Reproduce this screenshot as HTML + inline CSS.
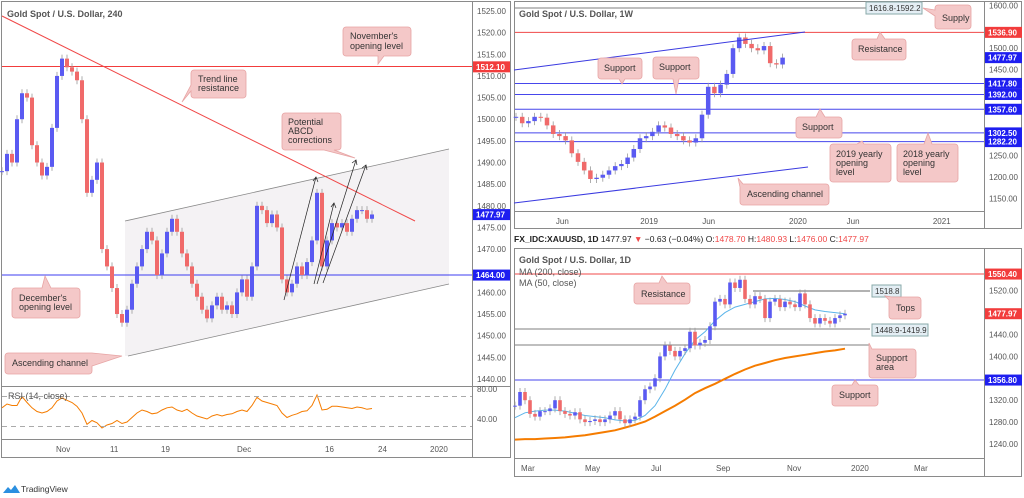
<!DOCTYPE html>
<html><head><meta charset="utf-8"><style>
body{margin:0;background:#fff;}
svg{display:block;font-family:"Liberation Sans",sans-serif;}
.ax{font-size:8px;fill:#555;}
.cl{font-size:9px;fill:#333;}
.tt{font-size:9px;fill:#555;font-weight:bold;}
</style></head><body>
<svg id="s" width="1024" height="498" viewBox="0 0 1024 498" xmlns="http://www.w3.org/2000/svg">
<rect width="1024" height="498" fill="#fff"/>
<g fill="none" stroke="#8a8a8a" stroke-width="1">
<rect x="1.5" y="1.5" width="509" height="456"/>
<line x1="472.5" y1="1" x2="472.5" y2="457"/>
<line x1="1" y1="386.5" x2="510" y2="386.5"/>
<line x1="1" y1="439.5" x2="472" y2="439.5"/>
<rect x="514.5" y="1.5" width="507" height="227"/>
<line x1="984.5" y1="1" x2="984.5" y2="228"/>
<line x1="514" y1="211.5" x2="984" y2="211.5"/>
<rect x="514.5" y="248.5" width="507" height="228"/>
<line x1="984.5" y1="248" x2="984.5" y2="476"/>
<line x1="514" y1="458.5" x2="984" y2="458.5"/>
</g>
<polygon points="125,221 449,149 449,284 128,356 125,356" fill="#f4f2f4"/>
<line x1="125" y1="221" x2="449" y2="149" stroke="#888" stroke-width="0.8"/>
<line x1="128" y1="356" x2="449" y2="284" stroke="#888" stroke-width="0.8"/>
<line x1="2" y1="66.5" x2="472" y2="66.5" stroke="#f23c3c" stroke-width="1"/>
<line x1="2" y1="275" x2="472" y2="275" stroke="#3c3cf0" stroke-width="1"/>
<g id="p1"></g>
<line x1="2" y1="16" x2="415" y2="221" stroke="#f04848" stroke-width="1"/>
<g stroke="#222" stroke-width="0.7" fill="none">
<line x1="284" y1="300" x2="316" y2="177"/><path d="M313,181 L316,177 L318,182"/>
<line x1="314" y1="284" x2="334" y2="203"/><path d="M331,207 L334,203 L336,208"/>
<line x1="317" y1="284" x2="356" y2="160"/><path d="M352,163 L356,160 L357,165"/>
<line x1="323" y1="283" x2="366" y2="165"/><path d="M362,168 L366,165 L367,170"/>
</g>
<text class="tt" x="7" y="17">Gold Spot / U.S. Dollar, 240</text>
<g id="rsi"></g>
<line x1="2" y1="396.5" x2="472" y2="396.5" stroke="#aaa" stroke-dasharray="5,4"/>
<line x1="2" y1="426.5" x2="472" y2="426.5" stroke="#aaa" stroke-dasharray="5,4"/>
<text class="ax" x="8" y="399" style="font-size:9px">RSI (14, close)</text>
<text class="ax" x="477" y="392">80.00</text>
<text class="ax" x="477" y="422">40.00</text>
<g fill="#f4c8c8" stroke="#e7a4a4" stroke-width="0.8">
<path d="M346,27 h62 a3,3 0 0 1 3,3 v23 a3,3 0 0 1 -3,3 h-24 l-6,8 l0,-8 h-32 a3,3 0 0 1 -3,-3 v-23 a3,3 0 0 1 3,-3z"/>
<path d="M194,70 h49 a3,3 0 0 1 3,3 v22 a3,3 0 0 1 -3,3 h-49 a3,3 0 0 1 -3,-3 v-4 l-9,11 l9,-17 v-12 a3,3 0 0 1 3,-3z"/>
<path d="M285,113 h53 a3,3 0 0 1 3,3 v31 a3,3 0 0 1 -3,3 h-4 l21,8 l-31,-8 h-39 a3,3 0 0 1 -3,-3 v-31 a3,3 0 0 1 3,-3z"/>
<path d="M15,288 h27 l3,-12 l6,12 h26 a3,3 0 0 1 3,3 v24 a3,3 0 0 1 -3,3 h-62 a3,3 0 0 1 -3,-3 v-24 a3,3 0 0 1 3,-3z"/>
<path d="M8,353 h84 l30,3 l-30,10 v5 a3,3 0 0 1 -3,3 h-81 a3,3 0 0 1 -3,-3 v-15 a3,3 0 0 1 3,-3z"/>
</g>
<g class="cl">
<text x="350" y="39">November's</text>
<text x="350" y="49">opening level</text>
<text x="198" y="82">Trend line</text>
<text x="198" y="91">resistance</text>
<text x="288" y="125">Potential</text>
<text x="288" y="134">ABCD</text>
<text x="288" y="143">corrections</text>
<text x="19" y="301">December's</text>
<text x="19" y="310">opening level</text>
<text x="12" y="366">Ascending channel</text>
</g>
<line x1="515" y1="8" x2="866" y2="8" stroke="#555" stroke-width="0.8"/>
<rect x="866" y="2" width="56" height="12" fill="#e4eef4" stroke="#8aa"/>
<text x="869" y="11" class="ax" style="fill:#333">1616.8-1592.2</text>
<g id="p2"></g>
<line x1="514" y1="70" x2="805" y2="32" stroke="#3a3ae0" stroke-width="1"/>
<line x1="514" y1="203" x2="808" y2="167" stroke="#3a3ae0" stroke-width="1"/>
<text class="tt" x="519" y="17">Gold Spot / U.S. Dollar, 1W</text>
<g fill="#f4c8c8" stroke="#e7a4a4" stroke-width="0.8">
<path d="M938,5 h30 a3,3 0 0 1 3,3 v18 a3,3 0 0 1 -3,3 h-30 a3,3 0 0 1 -3,-3 v-10 l-12,-8 l12,2 v-2 a3,3 0 0 1 3,-3z"/>
<path d="M601,58 h38 a3,3 0 0 1 3,3 v15 a3,3 0 0 1 -3,3 h-14 l-3,5 l-3,-5 h-18 a3,3 0 0 1 -3,-3 v-15 a3,3 0 0 1 3,-3z"/>
<path d="M656,57 h40 a3,3 0 0 1 3,3 v16 a3,3 0 0 1 -3,3 h-17 l-3,15 l-3,-15 h-17 a3,3 0 0 1 -3,-3 v-16 a3,3 0 0 1 3,-3z"/>
<path d="M855,39 h22 l3,-7 l5,7 h18 a3,3 0 0 1 3,3 v15 a3,3 0 0 1 -3,3 h-48 a3,3 0 0 1 -3,-3 v-15 a3,3 0 0 1 3,-3z"/>
<path d="M799,117 h17 l4,-8 l5,8 h14 a3,3 0 0 1 3,3 v15 a3,3 0 0 1 -3,3 h-40 a3,3 0 0 1 -3,-3 v-15 a3,3 0 0 1 3,-3z"/>
<path d="M833,144 h24 l5,-3 l2,3 h24 a3,3 0 0 1 3,3 v32 a3,3 0 0 1 -3,3 h-55 a3,3 0 0 1 -3,-3 v-32 a3,3 0 0 1 3,-3z"/>
<path d="M900,144 h24 l4,-11 l4,11 h23 a3,3 0 0 1 3,3 v32 a3,3 0 0 1 -3,3 h-55 a3,3 0 0 1 -3,-3 v-32 a3,3 0 0 1 3,-3z"/>
<path d="M743,184 h83 a3,3 0 0 1 3,3 v15 a3,3 0 0 1 -3,3 h-83 a3,3 0 0 1 -3,-3 v-15 l-2,-9 z"/>
</g>
<g class="cl">
<text x="942" y="21">Supply</text>
<text x="604" y="71">Support</text>
<text x="659" y="70">Support</text>
<text x="858" y="52">Resistance</text>
<text x="802" y="130">Support</text>
<text x="836" y="157">2019 yearly</text>
<text x="836" y="166">opening</text>
<text x="836" y="175">level</text>
<text x="903" y="157">2018 yearly</text>
<text x="903" y="166">opening</text>
<text x="903" y="175">level</text>
<text x="747" y="197">Ascending channel</text>
</g>
<text x="514" y="242" style="font-size:8.5px;fill:#222"><tspan font-weight="bold">FX_IDC:XAUUSD, 1D</tspan> 1477.97 <tspan fill="#f04848">▼</tspan> −0.63 (−0.04%) O:<tspan fill="#f04848">1478.70</tspan> H:<tspan fill="#f04848">1480.93</tspan> L:<tspan fill="#f04848">1476.00</tspan> C:<tspan fill="#f04848">1477.97</tspan></text>
<line x1="753" y1="291" x2="870" y2="291" stroke="#333" stroke-width="0.8"/>
<line x1="515" y1="329" x2="870" y2="329" stroke="#555" stroke-width="0.8"/>
<line x1="515" y1="345" x2="870" y2="345" stroke="#555" stroke-width="0.8"/>
<g id="p3"></g>
<rect x="872" y="285" width="29" height="12" fill="#e4eef4" stroke="#8aa"/>
<text x="875" y="294" class="ax" style="fill:#333">1518.8</text>
<rect x="872" y="324" width="56" height="12" fill="#e4eef4" stroke="#8aa"/>
<text x="875" y="333" class="ax" style="fill:#333">1448.9-1419.9</text>
<text class="tt" x="519" y="263">Gold Spot / U.S. Dollar, 1D</text>
<text class="ax" x="519" y="275" style="font-size:9px">MA (200, close)</text>
<text class="ax" x="519" y="286" style="font-size:9px">MA (50, close)</text>
<g fill="#f4c8c8" stroke="#e7a4a4" stroke-width="0.8">
<path d="M637,283 h22 l3,-7 l5,7 h20 a3,3 0 0 1 3,3 v15 a3,3 0 0 1 -3,3 h-50 a3,3 0 0 1 -3,-3 v-15 a3,3 0 0 1 3,-3z"/>
<path d="M892,297 h26 a3,3 0 0 1 3,3 v16 a3,3 0 0 1 -3,3 h-26 a3,3 0 0 1 -3,-3 v-16 l-4,-4 z"/>
<path d="M872,349 h41 a3,3 0 0 1 3,3 v23 a3,3 0 0 1 -3,3 h-41 a3,3 0 0 1 -3,-3 v-32 z"/>
<path d="M835,385 h17 l3,-5 l4,5 h16 a3,3 0 0 1 3,3 v15 a3,3 0 0 1 -3,3 h-40 a3,3 0 0 1 -3,-3 v-15 a3,3 0 0 1 3,-3z"/>
</g>
<g class="cl">
<text x="641" y="297">Resistance</text>
<text x="896" y="311">Tops</text>
<text x="876" y="361">Support</text>
<text x="876" y="370">area</text>
<text x="839" y="398">Support</text>
</g>
<g>
<path d="M3,493 l5,-6 l3,3 l4,-5 l5,8 z" fill="#2a8fe0"/>
<text x="21" y="492" style="font-size:8.5px;fill:#333">TradingView</text>
</g>
<g id="axes"></g>
</svg>
<script>
const p1Closes=[1488,1492,1490,1500,1506,1505,1494,1490,1487,1489,1498,1510,1514,1512,1511,1509,1500,1483,1486,1490,1470,1466,1461,1455,1453,1456,1462,1466,1470,1474,1472,1464,1469,1474,1477,1474,1469,1466,1462,1459,1456,1454,1457,1459,1456,1457,1455,1460,1463,1459,1466,1480,1479,1476,1478,1475,1463,1460,1462,1466,1464,1467,1472,1483,1466,1472,1476,1475,1476,1474,1477,1479,1479,1477,1478];
const p1Rsi=[55,60,58,58,70,62,55,50,48,50,55,64,68,65,62,57,48,33,38,35,28,32,34,38,34,36,42,48,52,50,47,48,52,55,56,52,50,53,48,44,42,40,44,46,44,46,47,50,52,50,58,69,64,62,60,58,48,42,45,47,50,51,58,72,52,53,57,57,56,55,54,56,55,53,54];
const p1Ticks=[1525,1520,1515,1510,1505,1500,1495,1490,1485,1480,1475,1470,1460,1455,1450,1445,1440];
const p1Dates=["Nov","11","19","Dec","16","24","2020"];
const p1DateIdx=[12,22.8,33,48.2,65.8,76.4,86.8];
const p2Closes=[1340,1325,1330,1340,1338,1320,1300,1295,1285,1255,1235,1215,1195,1198,1205,1215,1225,1230,1245,1265,1290,1295,1305,1320,1315,1300,1295,1285,1280,1290,1345,1410,1395,1415,1440,1500,1525,1510,1500,1495,1505,1465,1462,1478];
const p2Ticks=[1600,1500,1450,1250,1200,1150];
const p2Levels=[1536.9,1417.8,1392.0,1357.6,1302.5,1282.2];
const p2Dates=["Jun","2019","Jun","2020","Jun","2021"];
const p2DateIdx=[7.4,21,31,45,54.3,68.2];
const p3Closes=[1310,1335,1320,1295,1290,1300,1300,1305,1320,1300,1295,1292,1298,1285,1280,1282,1285,1280,1285,1292,1300,1285,1278,1285,1290,1320,1340,1345,1360,1400,1420,1410,1400,1410,1415,1445,1420,1425,1430,1455,1500,1505,1495,1535,1525,1540,1505,1495,1510,1505,1470,1500,1505,1490,1500,1495,1490,1515,1495,1470,1460,1470,1465,1460,1470,1475,1478];
const p3Ma50=[1288,1297,1300,1302,1302,1300,1296,1292,1290,1288,1284,1282,1283,1292,1310,1340,1375,1405,1430,1445,1465,1480,1490,1495,1500,1505,1506,1504,1500,1492,1485,1482,1480,1478];
const p3Ma200=[1248,1249,1249,1250,1251,1252,1254,1256,1259,1262,1265,1270,1275,1281,1290,1300,1310,1321,1333,1342,1350,1359,1368,1376,1383,1388,1393,1397,1400,1403,1406,1409,1411,1414];
const p3Ticks=[1520,1440,1400,1320,1280,1240];
const p3Dates=["Mar","May","Jul","Sep","Nov","2020","Mar"];
const p3DateIdx=[2.4,15.2,28.4,41.4,55.6,68.4,81];

const NS="http://www.w3.org/2000/svg";
function mk(parent,tag,attrs){const e=document.createElementNS(NS,tag);for(const k in attrs)e.setAttribute(k,attrs[k]);parent.appendChild(e);return e;}
const y1=p=>11+(1525-p)*4.329, x1=i=>2+i*5;
const yr=v=>419-(v-40)*0.75;
const y2=p=>5.3+(1600-p)*0.4289, x2=i=>516+i*6.2;
const y3=p=>444-(p-1240)*0.5475, x3=i=>515+i*5, xm=i=>515+i*10;
const UP="#5a5af2", DN="#f06a6a";

function candles(g,closes,xs,ys,w,name){
  for(let i=0;i<closes.length;i++){
    const o=i?closes[i-1]:closes[i], c=closes[i];
    const top=Math.min(ys(o),ys(c)), bot=Math.max(ys(o),ys(c));
    const wk=mk(g,'line',{x1:xs(i),x2:xs(i),y1:top-4,y2:bot+4,stroke:'#9a9a9a','stroke-width':0.8});
    
    
    const r=mk(g,'rect',{x:xs(i)-w/2,y:top,width:w,height:Math.max(1,bot-top),fill:c>=o?UP:DN});
    
    
  }
}
function poly(g,vals,xs,ys,color,w,name){
  const pts=vals.map((v,i)=>xs(i).toFixed(1)+','+ys(v).toFixed(1)).join(' ');
  const l=mk(g,'polyline',{points:pts,fill:'none',stroke:color,'stroke-width':w});
  
  
}
function tag(g,x,y,txt,bg,name){
  const r=mk(g,'rect',{x:x,y:y-5.5,width:37,height:11,fill:bg});
  
  
  const t=mk(g,'text',{x:x+3,y:y+3,'font-size':8,'font-weight':'bold',fill:'#fff'});
  t.textContent=txt;
  
  
}
function tick(g,x,y,txt,name){
  const t=mk(g,'text',{x:x,y:y+3,class:'ax'});
  t.textContent=txt;
  
  
}

const g1=document.getElementById('p1'),gr=document.getElementById('rsi'),g2=document.getElementById('p2'),g3=document.getElementById('p3'),ga=document.getElementById('axes');
candles(g1,p1Closes,x1,y1,4,'h4');
poly(gr,p1Rsi,x1,yr,'#f57c00',1,'rsi-line');
p1Ticks.forEach(t=>tick(ga,477,y1(t),t.toFixed(2),'p1-y-tick'));
p1Dates.forEach((d,i)=>tick(ga,x1(p1DateIdx[i])-6,449,d,'p1-x-tick'));
tag(ga,473,y1(1512.1),'1512.10','#f23c3c','tag-1512');
tag(ga,473,y1(1477.97),'1477.97','#1e1ef0','tag-1477-p1');
tag(ga,473,y1(1464),'1464.00','#1e1ef0','tag-1464');

p2Levels.forEach((lv,i)=>{const l=mk(g2,'line',{x1:515,x2:984,y1:y2(lv),y2:y2(lv),stroke:i===0?'#f04848':'#4646ec','stroke-width':1});

});
candles(g2,p2Closes,x2,y2,4.5,'weekly');
p2Ticks.forEach(t=>tick(ga,989,y2(t),t.toFixed(2),'p2-y-tick'));
p2Dates.forEach((d,i)=>tick(ga,x2(p2DateIdx[i])-6,221,d,'p2-x-tick'));
tag(ga,985,y2(1536.9),'1536.90','#f23c3c','tag-1536');
tag(ga,985,y2(1477.97),'1477.97','#1e1ef0','tag-1477-p2');
p2Levels.slice(1).forEach(lv=>tag(ga,985,y2(lv),lv.toFixed(2),'#1e1ef0','tag-weekly-level'));

[[1550.4,'#f04848'],[1356.8,'#4646ec']].forEach(a=>{const l=mk(g3,'line',{x1:515,x2:984,y1:y3(a[0]),y2:y3(a[0]),stroke:a[1],'stroke-width':1});

});
poly(g3,p3Ma200,xm,y3,'#f57c00',2,'ma200-line');
poly(g3,p3Ma50,xm,y3,'#5ab4ea',1,'ma50-line');
candles(g3,p3Closes,x3,y3,3.6,'daily');
p3Ticks.forEach(t=>tick(ga,989,y3(t),t.toFixed(2),'p3-y-tick'));
p3Dates.forEach((d,i)=>tick(ga,x3(p3DateIdx[i])-6,468,d,'p3-x-tick'));
tag(ga,985,y3(1550.4),'1550.40','#f23c3c','tag-1550');
tag(ga,985,y3(1477.97),'1477.97','#f23c3c','tag-1477-p3');
tag(ga,985,y3(1356.8),'1356.80','#1e1ef0','tag-1356');
</script>
</body></html>
